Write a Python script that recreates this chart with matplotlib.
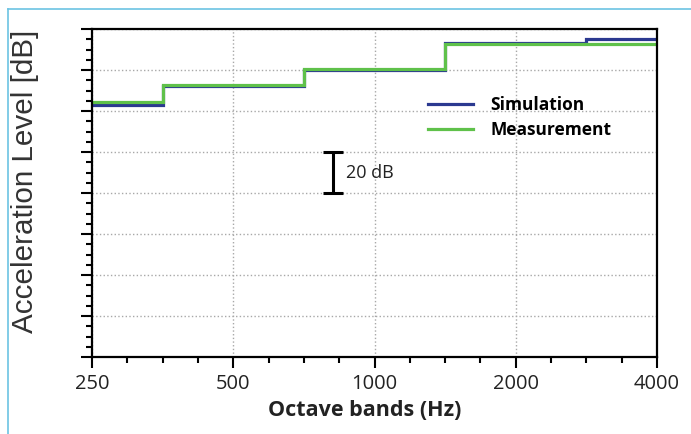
import matplotlib
matplotlib.use('Agg')
import matplotlib.pyplot as plt
import numpy as np
from matplotlib.lines import Line2D
from matplotlib.ticker import FixedLocator, NullFormatter

# octave band edges (Hz) and levels (dB, arbitrary reference)
band_edges = [250, 354, 707, 1414, 2828, 4000]
sim_level = [122.7, 132.4, 140.2, 153.3, 155.1]
meas_level = [124.5, 132.9, 140.7, 152.7, 152.7]
freq_ticks = [250, 500, 1000, 2000, 4000]
freq_labels = ['250', '500', '1000', '2000', '4000']

sim_color = '#2b3990'
meas_color = '#5fc14a'

fig = plt.figure(figsize=(6.91, 4.34), dpi=100)
ax = fig.add_axes([92/691, 1 - 357/434, 565/691, 328/434])

ax.stairs(sim_level, band_edges, baseline=None, color=sim_color, lw=2.3,
          label='Simulation')
ax.stairs(meas_level, band_edges, baseline=None, color=meas_color, lw=2.3,
          label='Measurement')

ax.set_xscale('log', base=2)
ax.set_xlim(250, 4000)
ax.set_ylim(0, 160)

ax.xaxis.set_major_locator(FixedLocator(freq_ticks))
ax.set_xticklabels(freq_labels, family='Open Sans', fontsize=14.5)
ax.xaxis.set_minor_locator(FixedLocator(250 * 2 ** (np.arange(0, 16) / 4)))
ax.xaxis.set_minor_formatter(NullFormatter())

ax.yaxis.set_major_locator(FixedLocator(np.arange(0, 161, 20)))
ax.yaxis.set_minor_locator(FixedLocator(np.arange(0, 161, 5)))
ax.set_yticklabels([])

ax.tick_params(which='major', length=8, width=1.5, direction='out', pad=4,
               colors='black', labelcolor='#222222')
ax.tick_params(which='minor', length=4.5, width=1.5, direction='out')
for s in ax.spines.values():
    s.set_linewidth(1.6)

ax.grid(True, which='major', linestyle=':', color='#a8a8a8', lw=1.0)
ax.set_axisbelow(True)

# 20 dB scale bar
bar_x = 816
ax.errorbar([bar_x], [90], yerr=[[10], [10]], fmt='none', ecolor='black',
            elinewidth=2.2, capsize=7, capthick=2.2)
ax.text(870, 90, '20 dB', family='Open Sans', fontsize=13, va='center',
        ha='left', color='#222222')

ax.legend(loc='upper left', bbox_to_anchor=(0.595, 0.797), frameon=False,
          borderpad=0, borderaxespad=0, handlelength=2.6, handletextpad=1.0,
          labelspacing=0.42,
          prop={'family': 'Open Sans', 'weight': 'bold', 'size': 12.5})

ax.set_xlabel('Octave bands (Hz)', family='Open Sans', weight='bold',
              fontsize=15.5, color='#222222')
ax.xaxis.set_label_coords(0.483, -0.13)

fig.text(25/691, 1 - 181/434, 'Acceleration Level [dB]', rotation=90,
         ha='center', va='center', family='Liberation Sans', fontsize=21.3,
         color='#333333')

# light blue page frame
frame_col = '#6cc3e3'
fig.add_artist(Line2D([8/691, 8/691], [0, 1 - 9/434], color=frame_col, lw=1.2))
fig.add_artist(Line2D([8/691, 1], [1 - 9/434, 1 - 9/434], color=frame_col, lw=1.2))

fig.savefig('out.png', dpi=100)
